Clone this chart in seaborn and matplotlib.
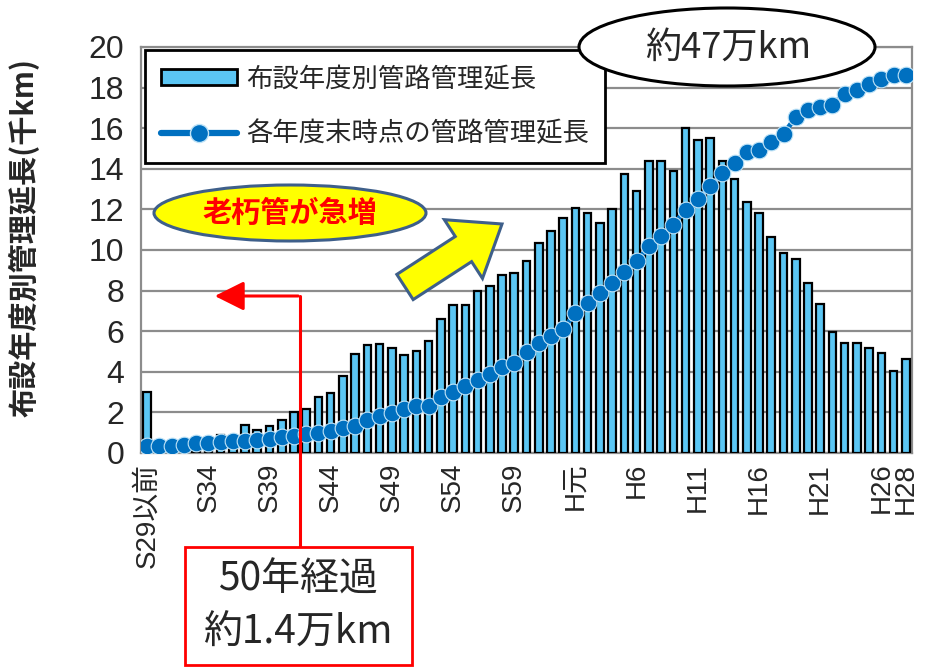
import numpy as np
import pandas as pd
import matplotlib
matplotlib.use("Agg")
import matplotlib.pyplot as plt
import seaborn as sns
from matplotlib.patches import Patch, Ellipse, Rectangle, Polygon, FancyArrowPatch
from matplotlib.lines import Line2D

# ---------------- data ----------------
years = (["S29以前"] + [f"S{i}" for i in range(30, 64)] + ["H元"] + [f"H{i}" for i in range(2, 29)])

pipe_length = [3.0, 0.3, 0.3, 0.35, 0.4, 0.5, 0.9, 0.6, 1.4, 1.13,
               1.35, 1.62, 2.03, 2.15, 2.78, 2.98, 3.77, 4.9, 5.33, 5.36,
               5.17, 4.85, 5.0, 5.53, 6.6, 7.3, 7.27, 8.0, 8.23, 8.77,
               8.85, 9.46, 10.33, 10.94, 11.6, 12.06, 11.84, 11.35, 12.02, 13.75,
               12.93, 14.36, 14.36, 13.9, 16.0, 15.43, 15.5, 14.36, 13.5, 12.35,
               11.8, 10.62, 9.83, 9.55, 8.35, 7.33, 5.97, 5.4, 5.4, 5.15,
               4.93, 4.05, 4.61]

# cumulative managed length at each fiscal year end (万km, secondary scale 0-50)
cumulative = [0.88, 0.88, 0.88, 0.93, 1.2, 1.28, 1.4, 1.5, 1.5, 1.55,
              1.75, 1.95, 2.13, 2.38, 2.43, 2.75, 3.05, 3.33, 4.08, 4.55,
              4.98, 5.38, 5.8, 5.8, 6.85, 7.55, 8.25, 9.0, 9.75, 10.55,
              11.05, 12.5, 13.53, 14.43, 15.25, 17.3, 18.45, 19.75, 20.93, 22.25,
              23.6, 25.45, 26.75, 28.13, 29.95, 31.25, 32.83, 34.45, 35.75, 37.05,
              37.3, 38.25, 39.3, 41.35, 42.18, 42.65, 42.88, 44.25, 44.75, 45.5,
              46.0, 46.5, 46.6]

shown_labels = ["S29以前", "S34", "S39", "S44", "S49", "S54", "S59", "H元",
                "H6", "H11", "H16", "H21", "H26", "H28"]
y_ticks = list(range(0, 21, 2))

bar_label = "布設年度別管路管理延長"
line_label = "各年度末時点の管路管理延長"
ylabel = "布設年度別管理延長(千km)"

df = pd.DataFrame({"year": years, "length": pipe_length, "cum": cumulative,
                   "pos": np.arange(len(years))})

# ---------------- style ----------------
sns.set_theme(style="white")
plt.rcParams["font.family"] = ["Liberation Sans", "Noto Sans CJK JP", "DejaVu Sans"]
CJK = ["Noto Sans CJK JP", "DejaVu Sans"]

BAR = "#5BC6F4"
LINE = "#0070C0"
GRID = "#8C8C8C"

W, H = 928, 669
fig = plt.figure(figsize=(W / 100, H / 100), dpi=100)
ax = fig.add_axes([141 / W, 1 - 453 / H, (912 - 141) / W, (453 - 47) / H])

def fp(x, y):
    return (x / W, 1 - y / H)

sns.barplot(data=df, x="year", y="length", order=years, color=BAR, saturation=1,
            edgecolor="black", linewidth=1.6, width=0.62, ax=ax, zorder=3)
ax.set_ylim(0, 20)
ax.set_xlim(-0.5, len(years) - 0.5)
ax.set_yticks(y_ticks)
ax.set_yticklabels([str(v) for v in y_ticks], fontsize=23)
ax.yaxis.grid(True, color=GRID, linewidth=1.6, zorder=0)
ax.set_axisbelow(True)
ticks_pos = [years.index(l) for l in shown_labels]
ax.set_xticks(ticks_pos)
ax.set_xticklabels(shown_labels, rotation=90, fontsize=20, va="top", ha="center")
ax.tick_params(axis="x", length=0, pad=7)
ax.tick_params(axis="y", length=0, pad=12)
ax.set_xlabel("")
ax.set_ylabel(ylabel, fontsize=21, fontweight="bold", family=CJK)
ax.yaxis.set_label_coords(-0.132, 0.53)
for s in ax.spines.values():
    s.set_color(GRID)
    s.set_linewidth(1.6)

ax2 = ax.twinx()
sns.lineplot(data=df, x="pos", y="cum", ax=ax2, color=LINE, linewidth=3.5,
             marker="o", markersize=12, markerfacecolor=LINE,
             markeredgecolor="#BFE3F7", markeredgewidth=0.8, zorder=5)
ax2.set_ylim(0, 50)
ax2.set_xlim(-0.5, len(years) - 0.5)
ax2.axis("off")

# legend
handles = [Patch(facecolor=BAR, edgecolor="black", linewidth=2),
           Line2D([0], [0], color=LINE, linewidth=4.5, marker="o", markersize=13,
                  markerfacecolor=LINE, markeredgecolor="#BFE3F7")]
leg = ax2.legend(handles, [bar_label, line_label], loc="upper left",
                 bbox_to_anchor=(0.005, 0.993), borderaxespad=0, frameon=True,
                 fancybox=False, prop={"family": CJK, "size": 19},
                 handlelength=2.9, handleheight=0.55, labelspacing=1.05,
                 borderpad=0.6, handletextpad=0.35, framealpha=1)
leg.get_frame().set_edgecolor("black")
leg.get_frame().set_linewidth(2)
leg.set_zorder(10)

# "約47万km" ellipse
e1 = Ellipse(fp(727, 47), 296 / W, 78 / H, transform=fig.transFigure,
             facecolor="white", edgecolor="black", linewidth=2.2, zorder=20)
fig.add_artist(e1)
fig.text(*fp(728, 48), "約47万km", transform=fig.transFigure, ha="center",
         va="center", fontsize=26, family=CJK, zorder=21)

# "老朽管が急増" ellipse
e2 = Ellipse(fp(290, 213), 272 / W, 56 / H, transform=fig.transFigure,
             facecolor="#FFFF00", edgecolor="#3E5F8A", linewidth=2.2, zorder=20)
fig.add_artist(e2)
fig.text(*fp(290, 213), "老朽管が急増", ha="center", va="center", fontsize=21,
         fontweight="bold", color="#FF0000", family=CJK, zorder=21)

# yellow block arrow
tail = np.array([405.0, 287.0])
tip = np.array([502.0, 224.0])
d = tip - tail
L = np.hypot(*d)
u = d / L
n = np.array([-u[1], u[0]])
shaft_w, head_w, head_l = 30, 70, 46
base = tip - u * head_l
pts_px = [tail + n * shaft_w / 2, base + n * shaft_w / 2, base + n * head_w / 2,
          tip, base - n * head_w / 2, base - n * shaft_w / 2, tail - n * shaft_w / 2]
pts = [fp(p[0], p[1]) for p in pts_px]
arrow = Polygon(pts, closed=True, transform=fig.transFigure, facecolor="#FFFF00",
                edgecolor="#3E5F8A", linewidth=2.2, zorder=20)
fig.add_artist(arrow)

# red leader: vertical line and arrow to the left
fig.add_artist(Line2D([300 / W, 300 / W], [1 - 548 / H, 1 - 296 / H],
                      transform=fig.transFigure, color="#FF0000", linewidth=2.2,
                      zorder=19))
fig.add_artist(FancyArrowPatch(fp(301, 296), fp(212, 296), transform=fig.transFigure,
                               arrowstyle="-|>,head_length=0.9,head_width=0.45",
                               mutation_scale=20, color="#FF0000", linewidth=2.2,
                               zorder=19))

# red box
rect = Rectangle(fp(185, 665), 227 / W, 118 / H, transform=fig.transFigure,
                 facecolor="white", edgecolor="#FF0000", linewidth=2, zorder=22)
fig.add_artist(rect)
fig.text(*fp(298, 580), "50年経過", ha="center", va="center", fontsize=28,
         family=CJK, zorder=23)
fig.text(*fp(298, 633), "約1.4万km", ha="center", va="center", fontsize=28,
         family=CJK, zorder=23)

fig.savefig("out.png", dpi=100)
